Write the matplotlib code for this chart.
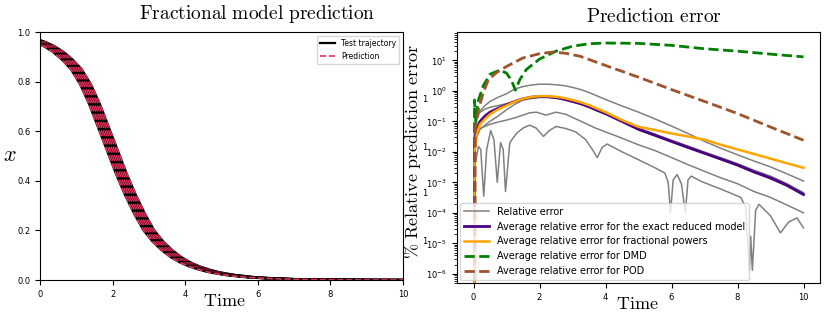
import matplotlib

matplotlib.use("Agg")
import matplotlib.pyplot as plt

plt.rcParams["mathtext.fontset"] = "cm"

# ---- left panel: trajectory band (base curve + time offsets of the test set)
t_base = [-0.5, -0.25, 0.0, 0.25, 0.5, 0.75, 1.0, 1.25, 1.5, 1.75, 2.0, 2.25, 2.5, 2.75,
          3.0, 3.25, 3.5, 3.75, 4.0, 4.25, 4.5, 4.75, 5.0, 5.25, 5.5, 5.75, 6.0, 6.25,
          6.5, 6.75, 7.0, 7.25, 7.5, 7.75, 8.0, 8.25, 8.5, 8.75, 9.0, 9.25, 9.5, 9.75,
          10.0, 10.25, 10.5]
x_base = [0.982, 0.973, 0.960, 0.943, 0.920, 0.889, 0.850, 0.790, 0.710, 0.615, 0.520,
          0.425, 0.340, 0.265, 0.200, 0.155, 0.120, 0.092, 0.071, 0.055, 0.043, 0.033,
          0.026, 0.020, 0.016, 0.012, 0.0095, 0.0074, 0.0057, 0.0044, 0.0034, 0.0026,
          0.002, 0.0015, 0.0012, 0.0009, 0.0007, 0.0005, 0.0004, 0.0003, 0.00023,
          0.00018, 0.00014, 0.0001, 0.00008]
t_offsets = [-0.15, -0.1, -0.05, 0.0, 0.05, 0.1, 0.15]

# ---- right panel: relative errors (percent)
t_avg = [0, 0.03, 0.1, 0.2, 0.35, 0.5, 0.75, 1.0, 1.25, 1.5, 1.75, 2.0, 2.25, 2.5, 2.75,
         3.0, 3.25, 3.5, 3.75, 4.0, 4.5, 5.0, 5.5, 6.0, 6.5, 7.0, 7.5, 8.0, 8.5, 9.0,
         9.5, 10.0]
err_exact = [0, 0.02, 0.06, 0.1, 0.15, 0.2, 0.27, 0.35, 0.45, 0.55, 0.62, 0.65, 0.64,
             0.6, 0.53, 0.45, 0.38, 0.3, 0.23, 0.18, 0.1, 0.055, 0.035, 0.022, 0.014,
             0.009, 0.0058, 0.0037, 0.0022, 0.0014, 0.0008, 0.0004]
err_frac = [0, 0.01, 0.04, 0.08, 0.12, 0.17, 0.25, 0.33, 0.44, 0.55, 0.63, 0.67, 0.67,
            0.64, 0.58, 0.5, 0.42, 0.34, 0.26, 0.2, 0.11, 0.066, 0.052, 0.04, 0.032,
            0.025, 0.017, 0.012, 0.0085, 0.006, 0.0042, 0.003]
err_g1 = [0, 0.04, 0.12, 0.22, 0.33, 0.45, 0.62, 0.8, 1.15, 1.38, 1.55, 1.65, 1.65, 1.58,
          1.48, 1.3, 1.1, 0.88, 0.68, 0.52, 0.32, 0.2, 0.12, 0.07, 0.04, 0.022, 0.013,
          0.008, 0.005, 0.0032, 0.0019, 0.0011]
err_g2 = [0, 0.05, 0.14, 0.2, 0.25, 0.29, 0.33, 0.38, 0.43, 0.5, 0.56, 0.6, 0.61, 0.58,
          0.52, 0.45, 0.38, 0.3, 0.24, 0.19, 0.11, 0.06, 0.038, 0.024, 0.0155, 0.0098,
          0.0064, 0.0041, 0.0025, 0.0016, 0.0009, 0.00046]
err_g3 = [0, 0.008, 0.03, 0.055, 0.075, 0.1, 0.15, 0.24, 0.36, 0.5, 0.6, 0.64, 0.63, 0.58,
          0.51, 0.43, 0.36, 0.29, 0.22, 0.17, 0.095, 0.052, 0.033, 0.021, 0.0133, 0.0086,
          0.0055, 0.0035, 0.0021, 0.0013, 0.00075, 0.00038]

t_g4 = [0, 0.05, 0.15, 0.3, 0.5, 0.75, 1.0, 1.25, 1.5, 1.7, 1.9, 2.2, 2.5, 2.8, 3.1, 3.4,
        3.7, 4.0, 4.5, 5.0, 5.5, 6.0, 6.5, 7.0, 7.5, 8.0, 8.5, 9.0, 9.5, 10.0]
err_g4 = [0, 0.04, 0.055, 0.065, 0.08, 0.095, 0.11, 0.13, 0.16, 0.19, 0.2, 0.16, 0.2,
          0.17, 0.12, 0.085, 0.06, 0.045, 0.028, 0.017, 0.011, 0.0065, 0.0038, 0.0023,
          0.0014, 0.0009, 0.0005, 0.00032, 0.00018, 0.0001]

t_g5 = [0, 0.05, 0.15, 0.22, 0.31, 0.4, 0.52, 0.62, 0.72, 0.82, 0.9, 0.97, 1.1, 1.3, 1.5,
        1.7, 1.9, 2.12, 2.3, 2.5, 2.8, 3.1, 3.4, 3.6, 3.75, 3.9, 4.05, 4.5, 5.0, 5.5, 5.8,
        5.9, 5.97, 6.05, 6.17, 6.3, 6.42, 6.5, 6.6, 6.9, 7.5, 8.1, 8.25, 8.36, 8.4, 8.45,
        8.55, 8.65, 9.0, 9.3, 9.55, 9.8, 10.0]
err_g5 = [0, 0.004, 0.015, 0.012, 0.00035, 0.012, 0.05, 0.025, 0.001, 0.02, 0.012,
          0.0005, 0.02, 0.04, 0.06, 0.075, 0.06, 0.032, 0.05, 0.068, 0.058, 0.045, 0.025,
          0.012, 0.0065, 0.014, 0.018, 0.01, 0.0055, 0.003, 0.002, 0.001, 0.0001, 0.0012,
          0.0018, 0.0009, 0.0001, 0.0012, 0.0016, 0.00107, 0.0006, 0.00032, 0.00015,
          0.0000013, 0.000017, 0.0000013, 0.00012, 0.00019, 0.00008, 0.000022, 0.00005,
          0.000068, 0.000032]

t_dmd = [0, 0.03, 0.07, 0.15, 0.3, 0.5, 0.8, 1.0, 1.15, 1.27, 1.4, 1.6, 2.0, 2.5, 3.0,
         3.5, 4.0, 5.0, 6.0, 7.0, 8.0, 9.0, 10.0]
err_dmd = [0, 0.5, 0.1, 0.5, 1.5, 3.5, 4.8, 3.8, 2.2, 1.05, 2.3, 5.0, 11, 20, 29, 35, 37,
           36, 31, 24, 20, 16, 13]

t_pod = [0, 0.05, 0.15, 0.3, 0.45, 0.7, 1.0, 1.5, 2.0, 2.4, 2.8, 3.24, 4.0, 5.0, 6.0,
         7.0, 8.0, 9.0, 10.0]
err_pod = [0, 0.05, 0.24, 0.9, 2.3, 4.0, 6.3, 12, 16.5, 18.7, 17, 13.5, 6.8, 2.8, 1.1,
           0.45, 0.18, 0.065, 0.024]

# stray "1" labels visible between the panels in the original (pixel rows)
stray_rows = [100, 148, 193, 242]

fig = plt.figure(figsize=(8.3, 3.23), dpi=100)
W, H = 830, 323


def px_axes(x0, x1, ytop, ybot):
    return fig.add_axes([x0 / W, 1 - ybot / H, (x1 - x0) / W, (ybot - ytop) / H])


# left panel
ax1 = px_axes(40, 403, 32, 280)
for k, s in enumerate(t_offsets):
    tt = [v - s for v in t_base]
    ax1.plot(tt, x_base, color="k", lw=1.6,
             label="Test trajectory" if k == 0 else None)
    ax1.plot(tt, x_base, color="#e8305a", lw=1.2, ls="--",
             label="Prediction" if k == 0 else None)
ax1.set_xlim(0, 10)
ax1.set_ylim(0, 1)
ax1.tick_params(labelsize=6)
ax1.legend(loc="upper right", fontsize=5.5)
fig.text(257 / W, 1 - 14 / H, r"$\mathrm{Fractional\ model\ prediction}$",
         ha="center", va="center", fontsize=14)
fig.text(224 / W, 1 - 301 / H, r"$\mathrm{Time}$", ha="center", va="center", fontsize=13)
fig.text(10 / W, 1 - 155 / H, r"$x$", ha="center", va="center", fontsize=16)

# right panel
ax2 = px_axes(457, 820, 32, 283)
ax2.plot(t_avg, err_g1, color="gray", lw=1.1, label="Relative error")
ax2.plot(t_avg, err_g2, color="gray", lw=1.1)
ax2.plot(t_avg, err_g3, color="gray", lw=1.1)
ax2.plot(t_g4, err_g4, color="gray", lw=1.1)
ax2.plot(t_g5, err_g5, color="gray", lw=1.1)
ax2.plot(t_avg, err_exact, color="indigo", lw=2,
         label="Average relative error for the exact reduced model")
ax2.plot(t_avg, err_frac, color="orange", lw=1.8,
         label="Average relative error for fractional powers")
ax2.plot(t_dmd, err_dmd, color="green", lw=2, ls="--",
         label="Average relative error for DMD")
ax2.plot(t_pod, err_pod, color="sienna", lw=2, ls="--",
         label="Average relative error for POD")
ax2.set_yscale("log")
ax2.set_ylim(5e-7, 85)
ax2.set_xlim(-0.5, 10.5)
ax2.set_xticks([0, 2, 4, 6, 8, 10])
ax2.tick_params(labelsize=6)
ax2.legend(loc="lower left", fontsize=7, handlelength=2.6, borderaxespad=0.3)
fig.text(654 / W, 1 - 16 / H, r"$\mathrm{Prediction\ error}$",
         ha="center", va="center", fontsize=14)
fig.text(637 / W, 1 - 304 / H, r"$\mathrm{Time}$", ha="center", va="center", fontsize=13)
fig.text(412 / W, 1 - 152 / H, r"$\%\ \mathrm{Relative\ prediction\ error}$",
         ha="center", va="center", rotation=90, fontsize=13)

for yy in stray_rows:
    fig.text(425 / W, 1 - yy / H, "1", ha="center", va="center", fontsize=6)

fig.savefig("out.png", dpi=100)
